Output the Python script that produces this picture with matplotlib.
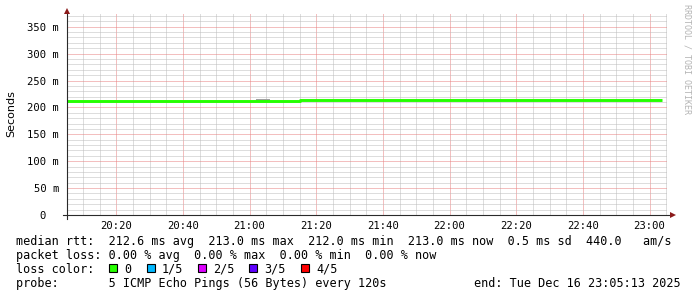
import datetime as dt
import matplotlib
matplotlib.use("Agg")
import matplotlib.pyplot as plt
import matplotlib.dates as mdates
from matplotlib.ticker import FixedLocator, FixedFormatter, MultipleLocator
from matplotlib.patches import Rectangle

# ---------------- data ----------------
day = "2025-12-16"
window_start = "20:05:13"
window_end = "23:05:13"

median_seg_start = ["20:05:13", "21:15:00"]
median_seg_end = ["21:15:00", "23:03:37"]
median_ms = [212.0, 213.0]

smoke_start = ["21:02:00"]
smoke_end = ["21:06:00"]
smoke_lo_ms = [212.0]
smoke_hi_ms = [216.0]

y_ticks = [0, 50, 100, 150, 200, 250, 300, 350]
y_tick_labels = ["0  ", "50 m", "100 m", "150 m", "200 m", "250 m", "300 m", "350 m"]

loss_labels = ["0", "1/5", "2/5", "3/5", "4/5"]
loss_colors = ["#26ff00", "#00b8ff", "#dd00ff", "#5e00ff", "#ff0000"]

line1 = "median rtt:  212.6 ms avg  213.0 ms max  212.0 ms min  213.0 ms now  0.5 ms sd  440.0   am/s"
line2 = "packet loss: 0.00 % avg  0.00 % max  0.00 % min  0.00 % now"
line3 = "loss color:"
line4 = "probe:       5 ICMP Echo Pings (56 Bytes) every 120s"
end_text = "end: Tue Dec 16 23:05:13 2025"


def T(s):
    return dt.datetime.strptime(day + " " + s, "%Y-%m-%d %H:%M:%S")


W, H = 697, 297
fig = plt.figure(figsize=(W / 100, H / 100), dpi=100)
fig.patch.set_facecolor("white")

ax_l, ax_r, ax_b, ax_t = 67, 667, 215, 13.8
ax = fig.add_axes([ax_l / W, 1 - ax_b / H, (ax_r - ax_l) / W, (ax_b - ax_t) / H])
ax.set_facecolor("white")

ax.set_xlim(T(window_start), T(window_end))
ax.set_ylim(0, 374)

# grid
ax.xaxis.set_major_locator(mdates.MinuteLocator(byminute=[0, 20, 40]))
ax.xaxis.set_minor_locator(mdates.MinuteLocator(byminute=list(range(0, 60, 5))))
ax.xaxis.set_major_formatter(mdates.DateFormatter("%H:%M"))
ax.yaxis.set_major_locator(FixedLocator(y_ticks))
ax.yaxis.set_major_formatter(FixedFormatter(y_tick_labels))
ax.yaxis.set_minor_locator(MultipleLocator(10))

ax.grid(which="minor", color="#bcbcbc", linewidth=0.72, linestyle=(0, (1, 1)))
ax.grid(which="major", color="#e88080", linewidth=0.72, linestyle=(0, (1, 1)))
ax.set_axisbelow(True)

for sp in ax.spines.values():
    sp.set_visible(False)

ax.tick_params(which="both", length=0)
ax.tick_params(axis="x", pad=4.5, labelsize=7.6, labelcolor="#000000")
ax.tick_params(axis="y", pad=5.5, labelsize=7.6, labelcolor="#000000")
for lab in ax.get_xticklabels() + ax.get_yticklabels():
    lab.set_family("DejaVu Sans Mono")

# smoke
for s, e, lo, hi in zip(smoke_start, smoke_end, smoke_lo_ms, smoke_hi_ms):
    ax.fill_between([T(s), T(e)], [lo, lo], [hi, hi], color="#a0a0a0", linewidth=0, zorder=2)

# median line
xs = [T(s) for s in median_seg_start] + [T(median_seg_end[-1])]
ys = list(median_ms) + [median_ms[-1]]
ax.step(xs, ys, where="post", color=loss_colors[0], linewidth=2.1, solid_capstyle="butt", zorder=3)

# axis lines with extensions and arrows
w_px = ax_r - ax_l
h_px = ax_b - ax_t
axis_col = "#2a2a2a"
ax.plot([-4 / w_px, 1 + 5 / w_px], [0, 0], color=axis_col, lw=0.8, transform=ax.transAxes, clip_on=False, zorder=5)
ax.plot([0, 0], [-4 / h_px, 1 + 1 / h_px], color=axis_col, lw=0.8, transform=ax.transAxes, clip_on=False, zorder=5)
ax.plot([0], [1 + 2.5 / h_px], marker="^", markersize=4.2, color="#8b1a1a", transform=ax.transAxes, clip_on=False, zorder=6, markeredgewidth=0)
ax.plot([1 + 6 / w_px], [0], marker=">", markersize=4.2, color="#8b1a1a", transform=ax.transAxes, clip_on=False, zorder=6, markeredgewidth=0)

# labels
fig.text(11 / W, 1 - 114 / H, "Seconds", rotation=90, ha="center", va="center",
         fontsize=8, family="DejaVu Sans", color="#000000")
fig.text(687 / W, 1 - 59 / H, "RRDTOOL / TOBI OETIKER", rotation=-90, ha="center", va="center",
         fontsize=6, family="DejaVu Sans Mono", color="#b4b4b4")

mono = dict(family="DejaVu Sans Mono", fontsize=8.5, color="#000000", va="baseline", ha="left")
x0 = 16 / W
fig.text(x0, 1 - 245 / H, line1, **mono)
fig.text(x0, 1 - 259 / H, line2, **mono)
fig.text(x0, 1 - 273 / H, line3, **mono)
fig.text(x0, 1 - 287 / H, line4, **mono)
fig.text(681 / W, 1 - 287 / H, end_text, **{**mono, "ha": "right"})

box_x = [109, 147, 198, 249, 301]
for bx, lab, col in zip(box_x, loss_labels, loss_colors):
    fig.patches.append(Rectangle((bx / W, 1 - 272 / H), 8 / W, 8 / H, transform=fig.transFigure,
                                 facecolor=col, edgecolor="#000000", linewidth=0.8))
    fig.text((bx + 15) / W, 1 - 273 / H, lab, **mono)

fig.savefig("out.png", dpi=100, facecolor="white")
